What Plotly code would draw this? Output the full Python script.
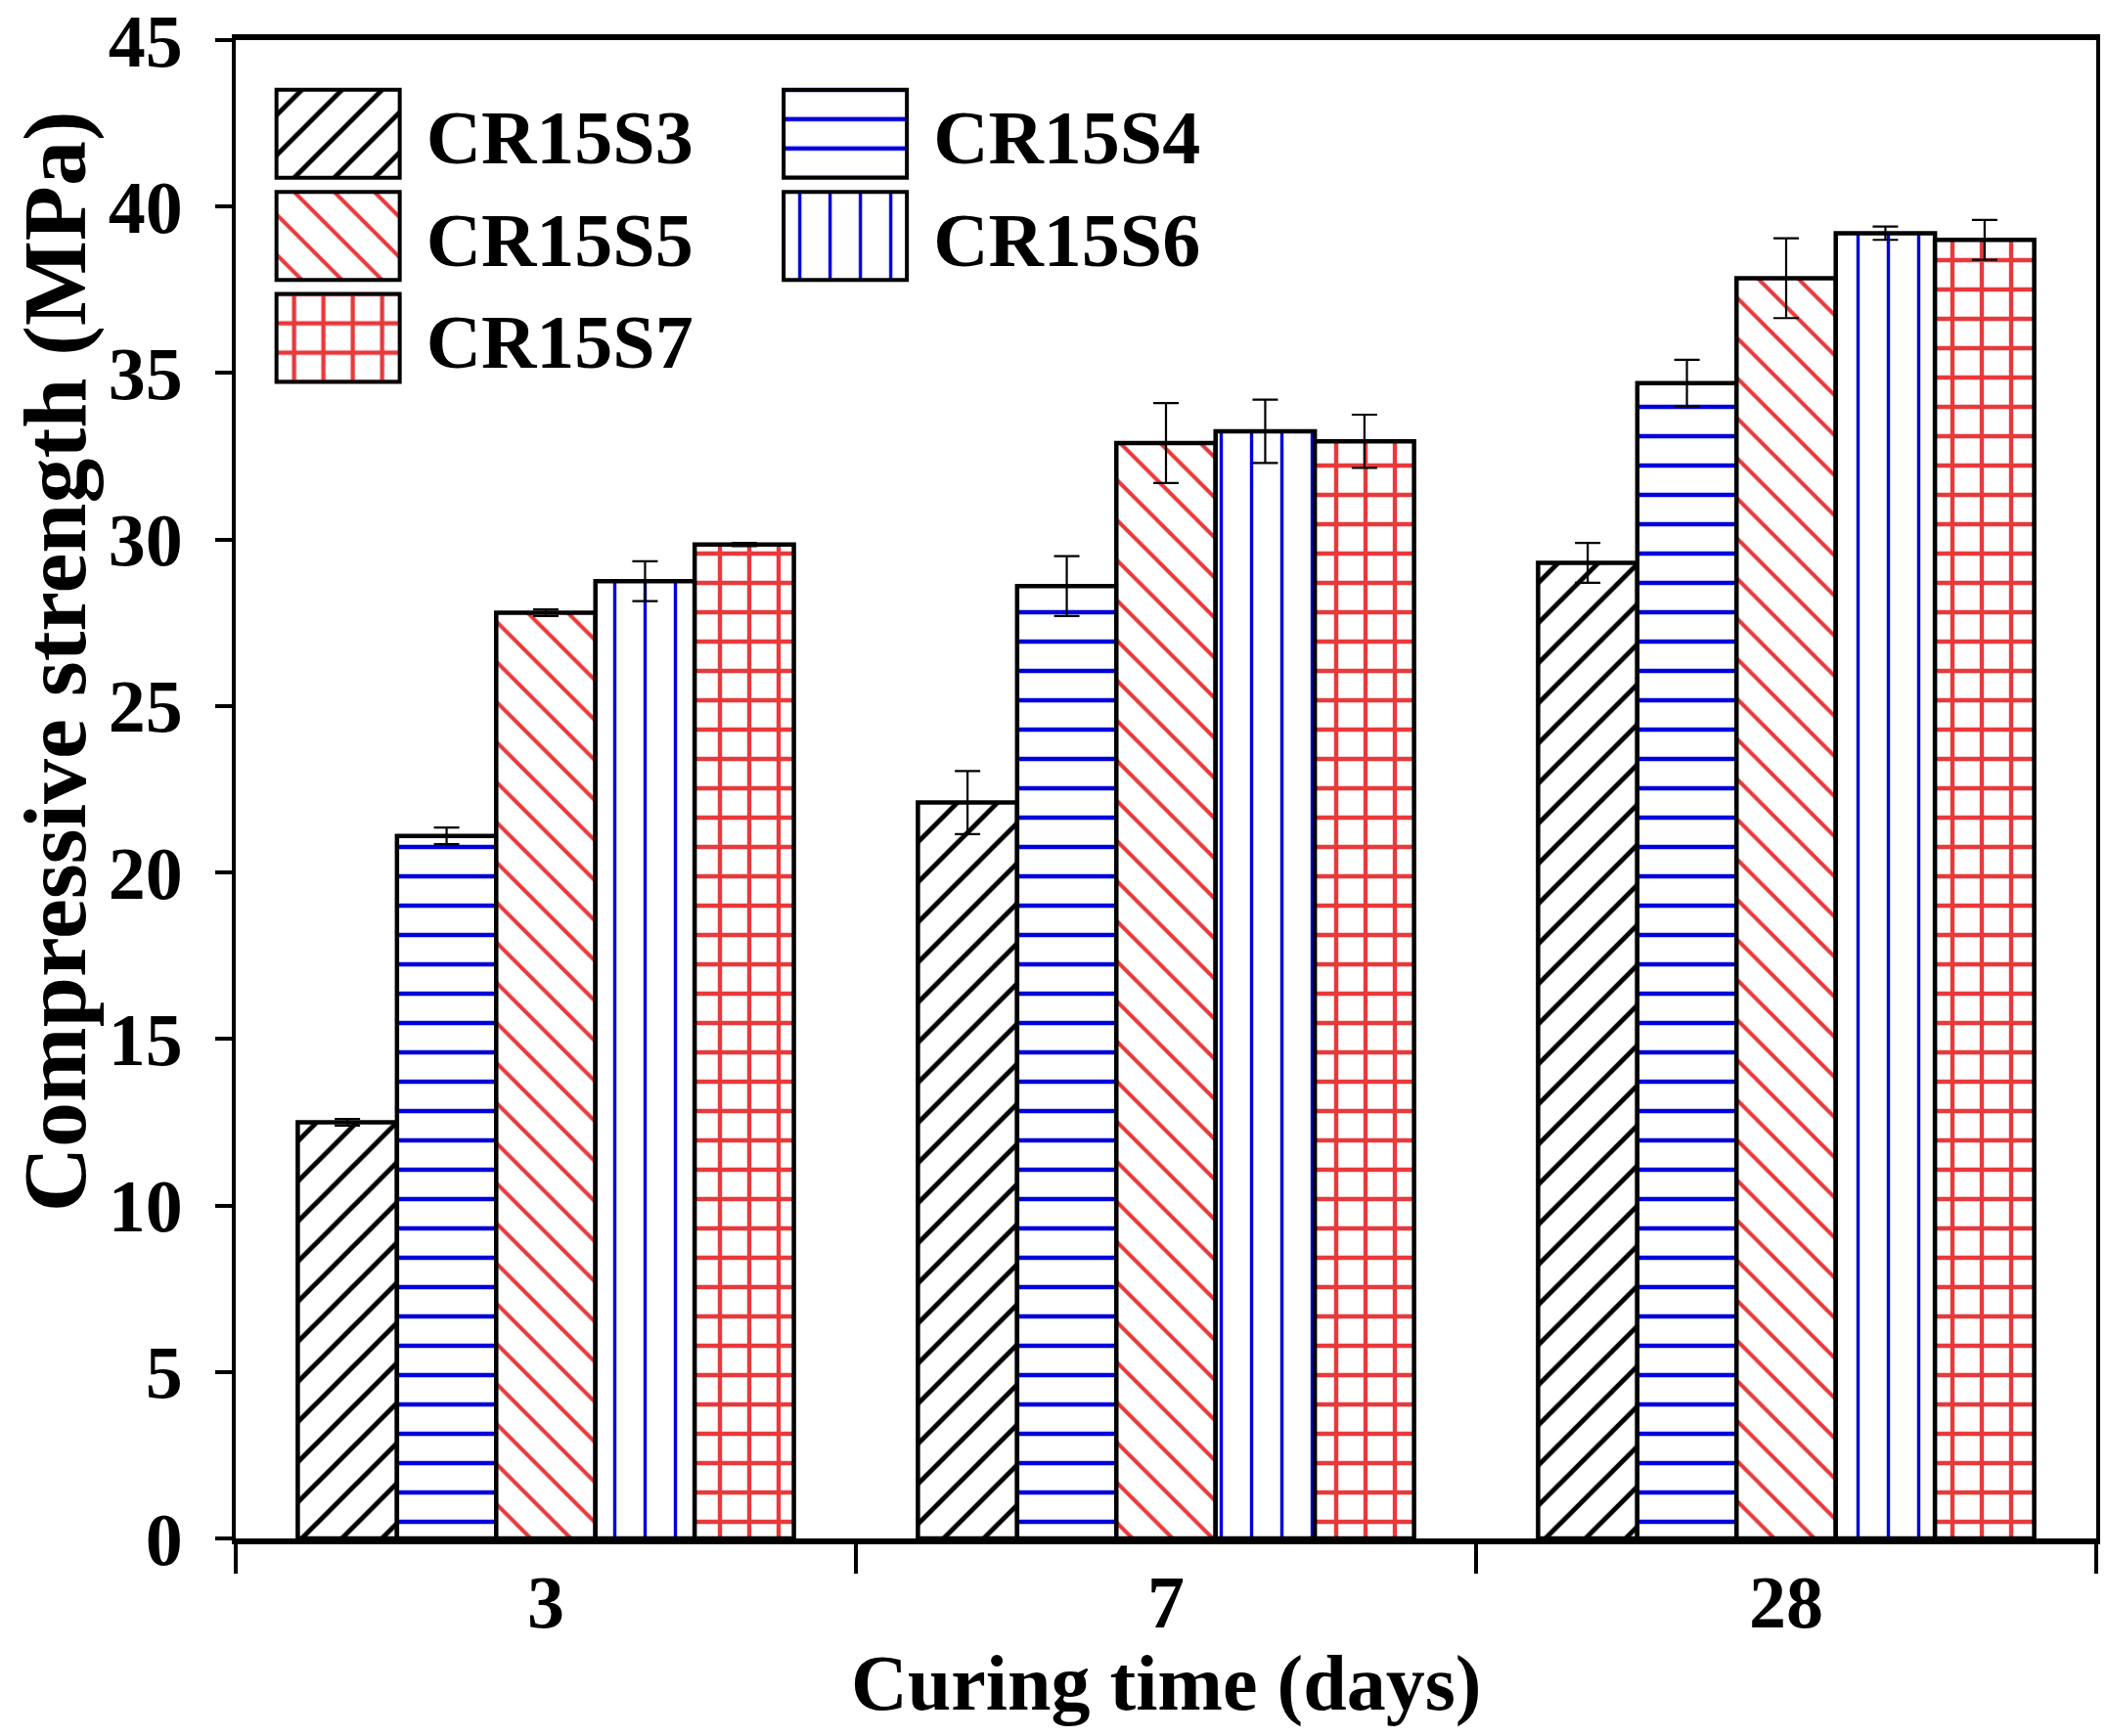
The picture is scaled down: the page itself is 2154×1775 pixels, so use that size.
import plotly.graph_objects as go

categories = ["3", "7", "28"]
series_names = ["CR15S3", "CR15S4", "CR15S5", "CR15S6", "CR15S7"]
s3_values = [12.5, 22.1, 29.3]
s4_values = [21.1, 28.6, 34.7]
s5_values = [27.8, 32.9, 37.85]
s6_values = [28.75, 33.25, 39.2]
s7_values = [29.85, 32.95, 39.0]
s3_err = [0.1, 0.95, 0.6]
s4_err = [0.25, 0.9, 0.7]
s5_err = [0.1, 1.2, 1.2]
s6_err = [0.6, 0.95, 0.2]
s7_err = [0.05, 0.8, 0.6]
y_ticks = [0, 5, 10, 15, 20, 25, 30, 35, 40, 45]
x_title = "Curing time (days)"
y_title = "Compressive strength (MPa)"

values = [s3_values, s4_values, s5_values, s6_values, s7_values]
errors = [s3_err, s4_err, s5_err, s6_err, s7_err]

BLACK = "#000000"
BLUE = "#0000DD"
RED = "#E8393B"
styles = [
    dict(shape="/", fg=BLACK, size=29, solidity=0.17, legend="legend"),
    dict(shape="-", fg=BLUE, size=30, solidity=0.15, legend="legend2"),
    dict(shape="\\", fg=RED, size=29, solidity=0.14, legend="legend"),
    dict(shape="|", fg=BLUE, size=31, solidity=0.11, legend="legend2"),
    dict(shape="+", fg=RED, size=30, solidity=0.27, legend="legend"),
]

FONT = "Liberation Serif, Times New Roman, serif"

fig = go.Figure()
for name, vals, errs, st in zip(series_names, values, errors, styles):
    fig.add_trace(go.Bar(
        x=categories, y=vals, name=name,
        marker=dict(
            color="white",
            line=dict(color="black", width=4.5),
            pattern=dict(shape=st["shape"], fgcolor=st["fg"], bgcolor="white",
                         size=st["size"], solidity=st["solidity"], fillmode="replace"),
        ),
        error_y=dict(type="data", array=errs, visible=True, color="black",
                     thickness=2.2, width=13),
        legend=st["legend"],
    ))

legend_common = dict(
    font=dict(family=FONT, size=78, color="black", weight="bold"),
    bgcolor="rgba(0,0,0,0)", borderwidth=0,
    itemwidth=170, tracegroupgap=0,
    xanchor="left", yanchor="top", orientation="v",
)

fig.update_layout(
    width=2154, height=1775,
    margin=dict(l=241, r=11, t=41, b=202, autoexpand=False),
    paper_bgcolor="white", plot_bgcolor="white",
    barmode="group", bargap=0.2, bargroupgap=0.0,
    font=dict(family=FONT, color="black"),
    legend=dict(x=0.0077, y=0.9748, **legend_common),
    legend2=dict(x=0.2803, y=0.9748, **legend_common),
    xaxis=dict(
        type="category", categoryorder="array", categoryarray=categories,
        range=[-0.5, 2.5],
        tickson="boundaries", ticks="outside", ticklen=30, tickwidth=4, tickcolor="black",
        showline=True, linewidth=6, linecolor="black", mirror=True,
        showgrid=False, zeroline=False,
        tickfont=dict(family=FONT, size=76, color="black", weight="bold"),
        ticklabelstandoff=-6, ticklabeloverflow="allow",
    ),
    yaxis=dict(
        range=[0, 45], tickvals=y_ticks, ticktext=[str(v) for v in y_ticks],
        ticks="outside", ticklen=17, tickwidth=4, tickcolor="black",
        showline=True, linewidth=4, linecolor="black", mirror=True,
        showgrid=False, zeroline=False,
        tickfont=dict(family=FONT, size=76, color="black", weight="bold"),
        ticklabelstandoff=18, ticklabeloverflow="allow",
    ),
    annotations=[
        dict(text=x_title, xref="paper", yref="paper", x=0.5, y=-0.097,
             xanchor="center", yanchor="middle", showarrow=False,
             font=dict(family=FONT, size=80, color="black", weight="bold")),
        dict(text=y_title, xref="paper", yref="paper", x=-0.0975, y=0.585,
             xanchor="center", yanchor="middle", showarrow=False, textangle=-90,
             font=dict(family=FONT, size=92, color="black", weight="bold")),
    ],
)

post_js = """
document.body.style.margin = '0';
var gd = document.getElementById('{plot_id}');
var names = %s;
function fixLegend() {
  var fills = [];
  var bars = gd.querySelectorAll('.barlayer .trace');
  bars.forEach(function(t, i) {
    var p = t.querySelector('path');
    fills.push(p ? p.style.fill : null);
  });
  gd.querySelectorAll('.legendpoints').forEach(function(lp) {
    var tr = lp.parentNode;
    while (tr && tr.classList && !tr.classList.contains('traces')) { tr = tr.parentNode; }
    var idx = null;
    try { idx = tr.__data__[0].trace.index; } catch (e) { idx = null; }
    if (idx === null && tr) {
      var txt = tr.querySelector('text.legendtext');
      if (txt) { idx = names.indexOf(txt.textContent); }
    }
    lp.querySelectorAll('path').forEach(function(pt) {
      pt.setAttribute('d', 'M63,45H-63V-45H63Z');
      if (idx !== null && idx >= 0 && fills[idx]) { pt.style.fill = fills[idx]; }
      pt.style.stroke = 'black';
      pt.style.strokeWidth = '4px';
    });
  });
}
fixLegend();
if (gd.on) { gd.on('plotly_afterplot', fixLegend); }
setTimeout(fixLegend, 50);
setTimeout(fixLegend, 300);
setTimeout(fixLegend, 1000);
""" % ("[" + ",".join('"%s"' % n for n in series_names) + "]")

fig.write_html("out.html", post_script=post_js, config={"displayModeBar": False})
